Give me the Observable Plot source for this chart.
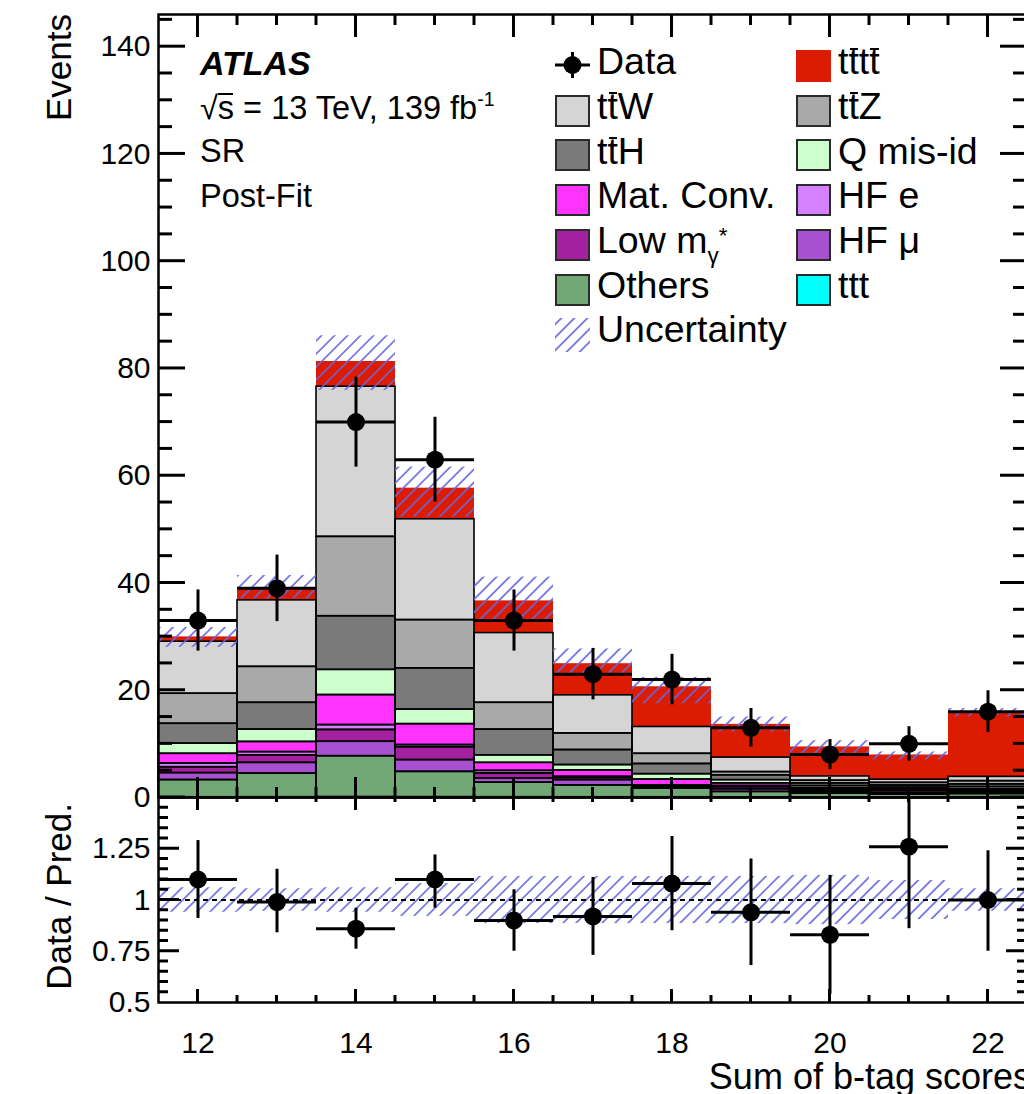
<!DOCTYPE html>
<html>
<head>
<meta charset="utf-8">
<script src="https://cdn.jsdelivr.net/npm/d3@7"></script>
<script src="https://cdn.jsdelivr.net/npm/@observablehq/plot@0.6"></script>
<style>
html, body { margin:0; padding:0; background:#fff; overflow:hidden; }
#wrap { position:relative; width:1024px; height:1094px; overflow:hidden; font-family:"Liberation Sans", Arial, Helvetica, sans-serif; color:#000; background:#fff; }
.lab { position:absolute; white-space:nowrap; line-height:1; }
.leg { position:absolute; white-space:nowrap; line-height:1; font-size:37.5px; }
.box { position:absolute; box-sizing:border-box; width:35px; height:32px; border:2px solid #2a2a2a; }
.ob, .ob2 { position:relative; }
.ob::before { content:""; position:absolute; left:0.03em; right:0.03em; top:0.2em; border-top:2.5px solid #000; }
.ob2::before { content:""; position:absolute; left:0; right:0.02em; top:0.08em; border-top:2px solid #000; }
.leg sub { font-size:0.6em; vertical-align:-0.45em; }
.leg sub sup { font-size:1em; vertical-align:0.9em; }
.lab sup { font-size:0.6em; vertical-align:0.65em; }
</style>
</head>
<body>
<svg width="0" height="0" style="position:absolute;left:0;top:0">
  <defs>
    <pattern id="hatch" patternUnits="userSpaceOnUse" width="9.2" height="9.2" patternTransform="rotate(45)">
      <line x1="4.6" y1="0" x2="4.6" y2="9.2" stroke="#6666e0" stroke-width="1.6"/>
    </pattern>
  </defs>
</svg>
<div id="wrap"></div>
<script>
// ---------------- data ----------------
const bins    = [12, 13, 14, 15, 16, 17, 18, 19, 20, 21, 22];
const ttt     = [0.05, 0.06, 0.10, 0.08, 0.06, 0.05, 0.05, 0.04, 0.03, 0.03, 0.05];
const others  = [3.2, 4.4, 7.6, 4.7, 2.7, 2.2, 1.6, 1.0, 0.7, 0.5, 0.6];
const hfMu    = [1.3, 2.0, 2.7, 2.2, 0.8, 1.0, 0.3, 0.5, 0.3, 0.3, 0.3];
const lowM    = [1.1, 1.4, 2.2, 2.4, 0.9, 0.4, 0.2, 0.4, 0.3, 0.4, 0.2];
const hfE     = [0.7, 0.6, 0.9, 0.4, 0.5, 0.2, 0.1, 0.2, 0.1, 0.1, 0.1];
const matConv = [1.8, 1.9, 5.6, 3.9, 1.5, 1.2, 1.1, 0.5, 0.3, 0.2, 0.3];
const qMisId  = [1.9, 2.3, 4.7, 2.7, 1.4, 1.0, 1.0, 0.6, 0.4, 0.3, 0.4];
const ttH     = [3.7, 5.0, 10.0, 7.7, 4.8, 2.8, 1.9, 0.9, 0.5, 0.4, 0.5];
const ttZ     = [5.6, 6.7, 14.8, 9.0, 5.0, 3.1, 1.9, 0.6, 0.5, 0.5, 0.6];
const ttW     = [9.7, 12.4, 28.0, 18.8, 13.0, 7.1, 5.0, 2.7, 0.8, 0.6, 0.8];
const tttt    = [0.9, 2.2, 4.7, 5.8, 6.0, 5.9, 7.5, 6.2, 5.5, 4.6, 12.1];

const dataVals = [33, 39, 70, 63, 33, 23, 22, 13, 8, 10, 16];
const dataErr  = [5.7, 6.2, 8.4, 7.9, 5.7, 4.8, 4.7, 3.6, 2.8, 3.2, 3.9];

const uncLo = [28.0, 37.1, 75.9, 52.3, 32.7, 22.7, 17.5, 12.2, 7.6, 7.0, 15.0];
const uncHi = [31.7, 41.4, 86.1, 61.6, 41.1, 27.7, 22.4, 15.0, 10.6, 8.5, 16.6];

const ratioVals = [1.10, 0.99, 0.86, 1.10, 0.90, 0.92, 1.08, 0.94, 0.83, 1.26, 1.00];
const ratioLo   = [0.91, 0.84, 0.76, 0.96, 0.75, 0.73, 0.85, 0.68, 0.54, 0.86, 0.75];
const ratioHi   = [1.29, 1.15, 0.96, 1.22, 1.05, 1.11, 1.31, 1.20, 1.12, 1.49, 1.24];
const bandLo    = [0.94, 0.945, 0.94, 0.92, 0.885, 0.885, 0.885, 0.885, 0.88, 0.905, 0.945];
const bandHi    = [1.06, 1.055, 1.06, 1.08, 1.115, 1.115, 1.115, 1.115, 1.12, 1.095, 1.055];

// tick values / labels
const yMajorTicks = [0, 20, 40, 60, 80, 100, 120, 140];
const yMinorTicks = [5,10,15,25,30,35,45,50,55,65,70,75,85,90,95,105,110,115,125,130,135,145];
const xMajorTicks = [12, 14, 16, 18, 20, 22];
const xMinorTicks = [12.5,13,13.5,14.5,15,15.5,16.5,17,17.5,18.5,19,19.5,20.5,21,21.5];
const rMajorTicks = [0.75, 1, 1.25];
const rLabelTicks = [0.5, 0.75, 1, 1.25];
const rMinorTicks = [0.55,0.6,0.65,0.7,0.8,0.85,0.9,0.95,1.05,1.1,1.15,1.2,1.3,1.35,1.4,1.45];

// ---------------- build tables ----------------
const comps = [
  {name: "ttt",        vals: ttt,     color: "#00ffff", outline: false},
  {name: "Others",     vals: others,  color: "#72a876", outline: true},
  {name: "HF mu",      vals: hfMu,    color: "#a750d0", outline: true},
  {name: "Low m",      vals: lowM,    color: "#a3209f", outline: true},
  {name: "HF e",       vals: hfE,     color: "#d580ff", outline: true},
  {name: "Mat. Conv.", vals: matConv, color: "#ff33ff", outline: true},
  {name: "Q mis-id",   vals: qMisId,  color: "#ccffcc", outline: true},
  {name: "ttH",        vals: ttH,     color: "#7a7a7a", outline: true},
  {name: "ttZ",        vals: ttZ,     color: "#a9a9a9", outline: true},
  {name: "ttW",        vals: ttW,     color: "#d5d5d5", outline: true},
  {name: "tttt",       vals: tttt,    color: "#dc1c00", outline: false}
];
const colorOf = Object.fromEntries(comps.map(c => [c.name, c.color]));

const stackRows = [];
bins.forEach((b, i) => {
  let acc = 0;
  comps.forEach(c => {
    stackRows.push({comp: c.name, x1: b - 0.5, x2: b + 0.5, y1: acc, y2: acc + c.vals[i]});
    acc += c.vals[i];
  });
});
const dataRows = bins.map((b, i) => ({b, x1: b - 0.5, x2: b + 0.5, v: dataVals[i], lo: dataVals[i] - dataErr[i], hi: dataVals[i] + dataErr[i]}));
const uncRows = bins.map((b, i) => ({x1: b - 0.5, x2: b + 0.5, y1: uncLo[i], y2: uncHi[i]}));
const ratioRows = bins.map((b, i) => ({b, x1: b - 0.5, x2: b + 0.5, v: ratioVals[i], lo: ratioLo[i], hi: ratioHi[i]}));
const bandRows = bins.map((b, i) => ({x1: b - 0.5, x2: b + 0.5, y1: bandLo[i], y2: bandHi[i]}));

const FONT = "Liberation Sans, Arial, Helvetica, sans-serif";
const W = 1040, ML = 158, MR = 13;
const XDOM = [11.5, 22.5];

// ---------------- main panel ----------------
const MH = 800, MT = 14, MB = 3;
const YDOM = [0, 146];
const mainMarks = [];
comps.forEach(c => {
  mainMarks.push(Plot.rect(stackRows.filter(r => r.comp === c.name), {x1: "x1", x2: "x2", y1: "y1", y2: "y2", fill: c.color}));
});
comps.filter(c => c.outline).forEach(c => {
  mainMarks.push(Plot.rect(stackRows.filter(r => r.comp === c.name), {x1: "x1", x2: "x2", y1: "y1", y2: "y2", fill: "none", stroke: "#000", strokeWidth: 1.6}));
});
mainMarks.push(Plot.rect(uncRows, {x1: "x1", x2: "x2", y1: "y1", y2: "y2", fill: "url(#hatch)"}));
mainMarks.push(Plot.ruleY(dataRows, {y: "v", x1: "x1", x2: "x2", stroke: "#000", strokeWidth: 3}));
mainMarks.push(Plot.ruleX(dataRows, {x: "b", y1: "lo", y2: "hi", stroke: "#000", strokeWidth: 3}));
mainMarks.push(Plot.dot(dataRows, {x: "b", y: "v", r: 9, fill: "#000", stroke: "none"}));
mainMarks.push(Plot.axisY({anchor: "left", ticks: yMajorTicks, tickSize: 0, tickPadding: 8, fontSize: 30, label: null}));
mainMarks.push(Plot.frame({stroke: "#000", strokeWidth: 2.5}));

const main = Plot.plot({
  width: W, height: MH,
  marginLeft: ML, marginRight: MR, marginTop: MT, marginBottom: MB,
  x: {domain: XDOM, axis: null},
  y: {domain: YDOM},
  style: {fontFamily: FONT, background: "transparent", overflow: "visible"},
  marks: mainMarks
});

// ---------------- ratio panel ----------------
const RH = 304, RT = 7, RB = 92;
const RDOM = [0.5, 1.5];
const ratioMarks = [
  Plot.rect(bandRows, {x1: "x1", x2: "x2", y1: "y1", y2: "y2", fill: "url(#hatch)"}),
  Plot.ruleY([1], {stroke: "#000", strokeWidth: 2, strokeDasharray: "5,4"}),
  Plot.ruleY(ratioRows, {y: "v", x1: "x1", x2: "x2", stroke: "#000", strokeWidth: 3}),
  Plot.ruleX(ratioRows, {x: "b", y1: "lo", y2: "hi", stroke: "#000", strokeWidth: 3}),
  Plot.dot(ratioRows, {x: "b", y: "v", r: 9, fill: "#000", stroke: "none"}),
  Plot.axisY({anchor: "left", ticks: rLabelTicks, tickSize: 0, tickPadding: 8, fontSize: 30, tickFormat: d => String(d), label: null}),
  Plot.axisX({anchor: "bottom", ticks: xMajorTicks, tickSize: 0, tickPadding: 29, fontSize: 30, tickFormat: d => String(d), label: null}),
  Plot.frame({stroke: "#000", strokeWidth: 2.5})
];
const ratio = Plot.plot({
  width: W, height: RH,
  marginLeft: ML, marginRight: MR, marginTop: RT, marginBottom: RB,
  x: {domain: XDOM},
  y: {domain: RDOM},
  style: {fontFamily: FONT, background: "transparent", overflow: "visible"},
  marks: ratioMarks
});

const RATIO_TOP = 790;
const wrap = document.getElementById("wrap");
for (const [svg, top] of [[main, 0], [ratio, RATIO_TOP]]) {
  svg.style.position = "absolute";
  svg.style.left = "0px";
  svg.style.top = top + "px";
  svg.style.maxWidth = "none";
  svg.style.overflow = "visible";
  svg.style.background = "transparent";
  wrap.appendChild(svg);
}

// ---------------- overlay: inward frame ticks (from the plots' own scales) + titles ----------------
const ns = "http://www.w3.org/2000/svg";
const overlay = d3.create("svg")
  .attr("width", 1024).attr("height", 1094)
  .attr("font-family", FONT)
  .attr("style", "position:absolute;left:0;top:0;overflow:visible;pointer-events:none");

function frameTicks(plot, yoff, ydom, yMaj, yMin, L) {
  const xs = plot.scale("x"), ys = plot.scale("y");
  const xL = xs.apply(XDOM[0]), xR = xs.apply(XDOM[1]);
  const yT = ys.apply(ydom[1]) + yoff, yB = ys.apply(ydom[0]) + yoff;
  const g = overlay.append("g").attr("stroke", "#000").attr("stroke-width", 3);
  const seg = (x1, y1, x2, y2) => g.append("line").attr("x1", x1).attr("y1", y1).attr("x2", x2).attr("y2", y2);
  yMaj.forEach(v => { const y = ys.apply(v) + yoff; seg(xL, y, xL + L.yMaj, y); seg(xR - L.yMaj, y, xR, y); });
  yMin.forEach(v => { const y = ys.apply(v) + yoff; seg(xL, y, xL + L.yMin, y); seg(xR - L.yMin, y, xR, y); });
  xMajorTicks.forEach(v => { const x = xs.apply(v); seg(x, yT, x, yT + L.topMaj); seg(x, yB - L.botMaj, x, yB); });
  xMinorTicks.forEach(v => { const x = xs.apply(v); seg(x, yT, x, yT + L.topMin); seg(x, yB - L.botMin, x, yB); });
}
frameTicks(main, 0, YDOM, yMajorTicks, yMinorTicks, {yMaj: 27, yMin: 14, topMaj: 23, topMin: 11, botMaj: 20, botMin: 10});
frameTicks(ratio, RATIO_TOP, RDOM, rMajorTicks, rMinorTicks, {yMaj: 21, yMin: 10, topMaj: 13, topMin: 5, botMaj: 13, botMin: 7});

overlay.append("text").attr("transform", "translate(71,14) rotate(-90)").attr("text-anchor", "end").attr("font-size", 35).text("Events");
overlay.append("text").attr("transform", "translate(71,803) rotate(-90)").attr("text-anchor", "end").attr("font-size", 35).text("Data / Pred.");
overlay.append("text").attr("x", 1031).attr("y", 1089).attr("text-anchor", "end").attr("font-size", 36).text("Sum of b-tag scores");
wrap.appendChild(overlay.node());

// ATLAS labels
const atlasLines = [
  {html: "ATLAS", base: 75, fs: 34, style: "font-weight:bold;font-style:italic;"},
  {html: "√<span class='ob2'>s</span> = 13 TeV, 139 fb<sup>-1</sup>", base: 118, fs: 32.5, style: ""},
  {html: "SR", base: 163, fs: 32.5, style: ""},
  {html: "Post-Fit", base: 208, fs: 32.5, style: ""}
];
atlasLines.forEach(l => {
  const d = document.createElement("div");
  d.className = "lab";
  d.style.cssText = `left:200px; top:${l.base - 0.8465 * l.fs}px; font-size:${l.fs}px; ${l.style}`;
  d.innerHTML = l.html;
  wrap.appendChild(d);
});

// ---------------- legend ----------------
const legendItems = [
  {html: "Data", kind: "data", col: 0, row: 0},
  {html: "t<span class='ob'>t</span>t<span class='ob'>t</span>", comp: "tttt", col: 1, row: 0, noBorder: true},
  {html: "t<span class='ob'>t</span>W", comp: "ttW", col: 0, row: 1},
  {html: "t<span class='ob'>t</span>Z", comp: "ttZ", col: 1, row: 1},
  {html: "t<span class='ob'>t</span>H", comp: "ttH", col: 0, row: 2},
  {html: "Q mis-id", comp: "Q mis-id", col: 1, row: 2},
  {html: "Mat. Conv.", comp: "Mat. Conv.", col: 0, row: 3},
  {html: "HF e", comp: "HF e", col: 1, row: 3},
  {html: "Low m<sub>γ<sup>*</sup></sub>", comp: "Low m", col: 0, row: 4},
  {html: "HF μ", comp: "HF mu", col: 1, row: 4},
  {html: "Others", comp: "Others", col: 0, row: 5},
  {html: "ttt", comp: "ttt", col: 1, row: 5},
  {html: "Uncertainty", kind: "hatch", col: 0, row: 6}
];
const boxX = [555, 796], textX = [597, 838], LFS = 37.5;
legendItems.forEach(it => {
  const base = 75 + it.row * 44.7;
  if (it.kind === "data") {
    const s = document.createElementNS(ns, "svg");
    s.setAttribute("width", 36); s.setAttribute("height", 30);
    s.setAttribute("style", `position:absolute;left:${boxX[it.col]}px;top:${base - 25}px;overflow:visible`);
    s.innerHTML = `<line x1="0" x2="35" y1="15" y2="15" stroke="#000" stroke-width="3"/>
      <line x1="17.5" x2="17.5" y1="2" y2="28" stroke="#000" stroke-width="3"/>
      <circle cx="17.5" cy="15" r="9" fill="#000"/>`;
    wrap.appendChild(s);
  } else if (it.kind === "hatch") {
    const s = document.createElementNS(ns, "svg");
    s.setAttribute("width", 35); s.setAttribute("height", 34);
    s.setAttribute("style", `position:absolute;left:${boxX[it.col]}px;top:${base - 25}px`);
    s.innerHTML = `<rect x="0" y="0" width="35" height="34" fill="url(#hatch)"/>`;
    wrap.appendChild(s);
  } else {
    const b = document.createElement("div");
    b.className = "box";
    b.style.left = boxX[it.col] + "px";
    b.style.top = (base - 25) + "px";
    b.style.background = colorOf[it.comp];
    if (it.noBorder) b.style.borderColor = colorOf[it.comp];
    wrap.appendChild(b);
  }
  const t = document.createElement("div");
  t.className = "leg";
  t.style.left = textX[it.col] + "px";
  t.style.top = (base - 0.8465 * LFS) + "px";
  t.innerHTML = it.html;
  wrap.appendChild(t);
});
</script>
</body>
</html>
